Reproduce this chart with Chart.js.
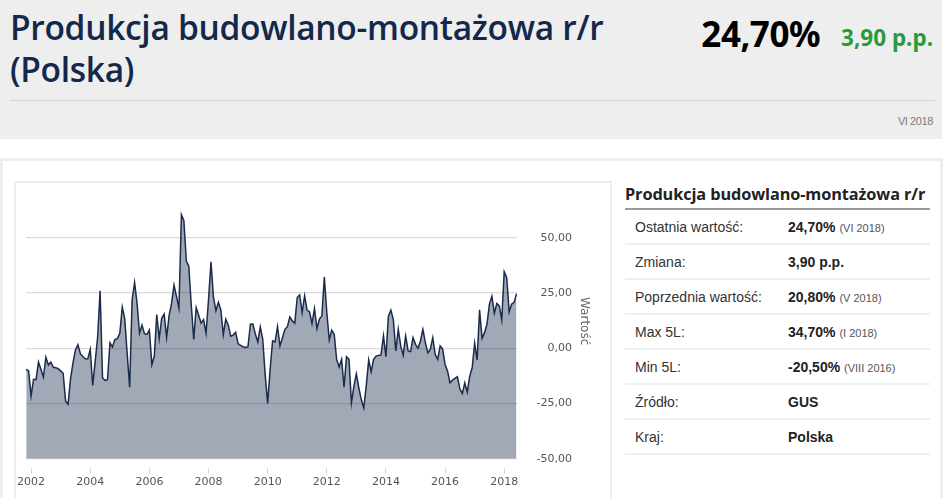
<!DOCTYPE html>
<html lang="pl">
<head>
<meta charset="utf-8">
<script src="https://cdn.jsdelivr.net/npm/chart.js@4.4.1/dist/chart.umd.min.js"></script>
<style>
  body { margin: 0; background: #fff; width: 945px; height: 498px; overflow: hidden; position: relative; font-family: "Liberation Sans", Arial, sans-serif; }
  .header { position: absolute; left: 0; top: 0; width: 942px; height: 139px; background: #eeeeee; }
  .title { position: absolute; left: 10px; top: 6px; font-family: "Open Sans", sans-serif; font-weight: 600; font-size: 33.5px; line-height: 42px; color: #13284a; letter-spacing: -0.3px; }
  .last { position: absolute; right: 122px; top: 10px; font-family: "Noto Sans", sans-serif; font-weight: 700; font-size: 35px; color: #000; letter-spacing: -0.5px; }
  .change { position: absolute; right: 9px; top: 22px; font-family: "Noto Sans", sans-serif; font-weight: 700; font-size: 22.5px; color: #2a9a3c; }
  .hline { position: absolute; left: 10px; top: 100px; width: 925px; height: 1px; background: #d2d2d2; }
  .date { position: absolute; right: 9px; top: 115px; font-size: 11px; color: #7a7a7a; letter-spacing: -0.4px; }
  .panel { position: absolute; left: 0; top: 158px; width: 937px; height: 400px; border: 3px solid #eeeeee; border-bottom: none; }
  .chartbox { position: absolute; left: 14px; top: 181px; width: 594px; height: 330px; border: 2px solid #eeeeee; border-bottom: none; }
  .chartwrap { position: absolute; left: 15px; top: 166px; width: 595px; height: 332px; }
  .ytitle { position: absolute; left: 578px; top: 297px; writing-mode: vertical-rl; font-family: "DejaVu Sans", sans-serif; font-size: 12px; color: #666; }
  .info { position: absolute; left: 625px; top: 183px; width: 305px; }
  .info h3 { margin: 0; font-family: "Open Sans", sans-serif; font-weight: 700; font-size: 16.3px; color: #222; padding-bottom: 3px; border-bottom: 2px solid #9a9a9a; letter-spacing: -0.1px; }
  .info table { width: 100%; border-collapse: collapse; }
  .info td { height: 33px; border-bottom: 2px solid #efefef; font-size: 14px; color: #333; padding: 0; }
  .info td.k { padding-left: 10px; width: 153px; }
  .info td.v { font-weight: 700; color: #222; }
  .info small { font-weight: 400; font-size: 11px; color: #555; }
</style>
</head>
<body>
<div class="header">
  <div class="title">Produkcja budowlano-montażowa r/r<br>(Polska)</div>
  <div class="last">24,70%</div>
  <div class="change">3,90 p.p.</div>
  <div class="hline"></div>
  <div class="date">VI 2018</div>
</div>
<div class="panel"></div>
<div class="chartbox"></div>
<div class="chartwrap"><canvas id="chart"></canvas></div>
<div class="ytitle">Wartość</div>
<div class="info">
  <h3>Produkcja budowlano-montażowa r/r</h3>
  <table>
    <tr><td class="k">Ostatnia wartość:</td><td class="v">24,70% <small>(VI 2018)</small></td></tr>
    <tr><td class="k">Zmiana:</td><td class="v">3,90 p.p.</td></tr>
    <tr><td class="k">Poprzednia wartość:</td><td class="v">20,80% <small>(V 2018)</small></td></tr>
    <tr><td class="k">Max 5L:</td><td class="v">34,70% <small>(I 2018)</small></td></tr>
    <tr><td class="k">Min 5L:</td><td class="v">-20,50% <small>(VIII 2016)</small></td></tr>
    <tr><td class="k">Źródło:</td><td class="v">GUS</td></tr>
    <tr><td class="k">Kraj:</td><td class="v">Polska</td></tr>
  </table>
</div>
<script>
// monthly series, XI 2001 - VI 2018
const startYear = 2001;
const startMonth = 11;

const values2001to2009 = [
  -9.6, -10.2, -21.5, -14, -14.2, -6.2, -9.5, -13, -4, -7.5,
  -6.2, -8.6, -8.8, -9.2, -10.2, -11.3, -23.8, -25.3, -13.8, -6.6,
  -0.7, 1.7, -2.4, -3.7, -4.7, -4.8, -0.5, -16.8, -6, 5,
  26, -13.4, -14.5, -14.2, 2.5, 0.6, 4, 4.4, 6.8, 18.6,
  13.5, -2.5, -17.6, 22, 29.8, 20.4, 6.8, 10.5, 6.6, 6.3,
  8.3, -7.4, -3.5, 15.3, 4.4, 13.6, 15.5, 5, 14.8, 20.3,
  28.6, 23.5, 18.2, 60.5, 57.8, 39.5, 37.2, 19.6, 4, 18.4,
  15, 11.4, 13, 6.9, 22, 39.1, 23.2, 17, 20.8, 17.4,
  6.2, 13.2, 10.6, 5.5, 6, 7.2, 2.1, 1.3, 0.7, 0.4,
  0.7, 10.9, 11, 6.5, 2.9, 9.7, 4.2, -12, -24.9, -9.6
];
const values2010to2014 = [
  3.4, 2.9, 9.8, 1.1, 4.8, 8.6, 9.8, 14.2, 12.4, 11.4,
  23, 24.2, 16.2, 23.8, 17.3, 16.5, 11.2, 18, 8.9, 13.2,
  14.7, 32.2, 16.2, 3.8, 8.2, 6.4, -5, -8.5, -5, -17.6,
  -3.8, -5, -24.7, -17.1, -11.5, -17.9, -23.2, -27, -17.1, -5.3,
  -10.6, -5, -3.5, -3.2, -3, 5.6, -3.8, 14.5, 17.3, 13
];
const values2014to2018 = [
  -1.2, 8.6, 1.1, -3.2, 5.6, -1.2, -1.5, 4.8, 1.8, 0,
  3.3, 8.6, 2.6, -2, -0.5, 4.8, -2.7, -5, 1.1, -0.2,
  -7.3, -10.3, -15.6, -14.4, -13.6, -12.9, -18.3, -20.5, -15.6, -19.8,
  -12.6, -8.8, 2.3, -5.3, 17.4, 4.5, 7.1, 10.9, 20, 23.5,
  15.9, 20.3, 19.2, 12.9, 34.7, 32.1, 16.5, 20, 20.8, 24.7
];
const values = [...values2001to2009, ...values2010to2014, ...values2014to2018];

const yTicks = [-50, -25, 0, 25, 50];

const months = values.map((_, i) => {
  const m = startMonth - 1 + i;
  const y = startYear + Math.floor(m / 12);
  return y + '-' + String(m % 12 + 1).padStart(2, '0');
});

Chart.defaults.font.family = '"DejaVu Sans", sans-serif';
Chart.defaults.font.size = 11;
Chart.defaults.color = '#606060';

new Chart(document.getElementById('chart'), {
  type: 'line',
  data: {
    labels: months,
    datasets: [{
      label: 'Wartość',
      data: values,
      borderColor: '#1b2b4b',
      borderWidth: 1.5,
      backgroundColor: 'rgba(30, 48, 82, 0.42)',
      fill: 'start',
      pointRadius: 0,
      tension: 0
    }]
  },
  options: {
    responsive: true,
    maintainAspectRatio: false,
    animation: false,
    layout: { padding: { left: 10, top: 7, bottom: 7, right: 38 } },
    plugins: { legend: { display: false }, tooltip: { enabled: false } },
    scales: {
      x: {
        type: 'category',
        offset: false,
        border: { display: false },
        grid: {
          drawOnChartArea: false,
          tickLength: 15,
          tickColor: '#ccd6eb',
          tickBorderDash: [0, 9, 6, 100]
        },
        afterBuildTicks: scale => {
          scale.ticks = scale.ticks.filter(t => {
            const [y, m] = months[t.value].split('-');
            return m === '01' && +y % 2 === 0;
          });
        },
        ticks: {
          autoSkip: false,
          maxRotation: 0,
          padding: 2,
          color: '#555',
          callback: v => months[v].slice(0, 4)
        }
      },
      y: {
        position: 'right',
        min: -50,
        max: 75,
        border: { display: false },
        grid: { color: '#d9d9d9', lineWidth: 1.2, drawTicks: false },
        afterBuildTicks: scale => {
          scale.ticks = yTicks.map(v => ({ value: v }));
        },
        ticks: {
          padding: 10,
          crossAlign: 'far',
          color: '#555',
          callback: v => v.toFixed(2).replace('.', ',')
        }
      }
    }
  }
});
</script>
</body>
</html>
